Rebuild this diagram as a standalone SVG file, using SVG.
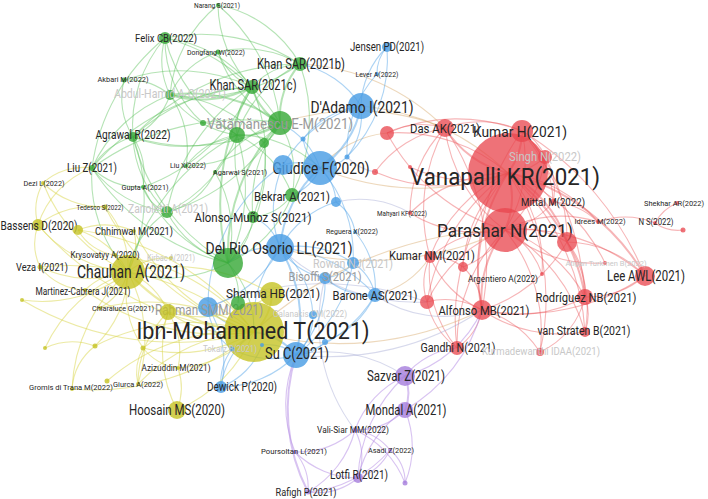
<svg xmlns="http://www.w3.org/2000/svg" width="708" height="499" viewBox="0 0 708 499">
<style>
#edges path{fill:none;stroke-width:1.1}
.r{stroke:#ec5a5f;stroke-opacity:.45}
.g{stroke:#5cc25c;stroke-opacity:.45}
.b{stroke:#5aa8ea;stroke-opacity:.5}
.y{stroke:#d9d64a;stroke-opacity:.5}
.p{stroke:#b892e6;stroke-opacity:.55}
.o{stroke:#d8a86a;stroke-opacity:.45}
.x{stroke:#9aa0d0;stroke-opacity:.4}
.w{stroke-width:2!important}
circle.R{fill:#e8464e;fill-opacity:.76}
circle.G{fill:#34a834;fill-opacity:.8}
circle.B{fill:#4a9de4;fill-opacity:.82}
circle.Y{fill:#c6c324;fill-opacity:.8}
circle.P{fill:#a57ddc;fill-opacity:.8}
text{font-family:Roboto,"Noto Sans","DejaVu Sans",sans-serif;fill:#262626;text-anchor:middle}
text.f{fill:#c8c8c8}
text.m{fill:#9a9a9a}
</style>
<rect width="708" height="499" fill="#fff"/>
<g id="edges">
<g class="r">
<path class="w" d="M508,173A80,80 0 0 1 505,230"/>
<path class="w" d="M508,173A70,70 0 0 0 522,131"/>
<path class="w" d="M508,173A100,100 0 0 1 445,128"/>
<path d="M508,173A60,60 0 0 0 545,157"/>
<path d="M508,173A70,70 0 0 1 553,202"/>
<path class="w" d="M508,173A120,120 0 0 1 567,242"/>
<path d="M508,173A140,140 0 0 1 598,222"/>
<path class="w" d="M508,173A220,220 0 0 1 645,276"/>
<path class="w" d="M508,173A190,190 0 0 1 585,297"/>
<path d="M508,173A230,230 0 0 1 585,332"/>
<path d="M508,173A230,230 0 0 1 540,352"/>
<path class="w" d="M508,173A180,180 0 0 0 482,310"/>
<path d="M508,173A230,230 0 0 0 457,348"/>
<path d="M508,173A150,150 0 0 0 430,257"/>
<path d="M508,173A140,140 0 0 1 542,274"/>
<path d="M508,173A140,140 0 0 0 463,267"/>
<path d="M508,173A180,180 0 0 1 605,263"/>
<path d="M508,173A140,140 0 0 0 410,213"/>
<path d="M508,173A200,200 0 0 0 427,302"/>
<path d="M508,173A170,170 0 0 0 387,133"/>
<path d="M508,173A170,170 0 0 1 375,172"/>
<path d="M508,173A130,130 0 0 1 410,167"/>
<path d="M505,230A130,130 0 0 0 522,131"/>
<path d="M505,230A150,150 0 0 1 445,128"/>
<path d="M505,230A110,110 0 0 0 545,157"/>
<path d="M505,230A80,80 0 0 0 553,202"/>
<path d="M505,230A90,90 0 0 1 567,242"/>
<path d="M505,230A190,190 0 0 1 645,276"/>
<path d="M505,230A140,140 0 0 1 585,297"/>
<path d="M505,230A170,170 0 0 1 585,332"/>
<path d="M505,230A160,160 0 0 1 540,352"/>
<path class="w" d="M505,230A110,110 0 0 0 482,310"/>
<path d="M505,230A160,160 0 0 0 457,348"/>
<path d="M505,230A110,110 0 0 0 430,257"/>
<path d="M505,230A80,80 0 0 1 463,267"/>
<path d="M505,230A80,80 0 0 1 542,274"/>
<path d="M505,230A140,140 0 0 0 427,302"/>
<path d="M505,230A200,200 0 0 1 387,133"/>
<path d="M505,230A130,130 0 0 1 410,213"/>
<path d="M505,230A120,120 0 0 1 598,222"/>
<path d="M505,230A140,140 0 0 0 605,263"/>
<path d="M522,131A100,100 0 0 0 445,128"/>
<path d="M522,131A50,50 0 0 1 545,157"/>
<path d="M522,131A180,180 0 0 0 387,133"/>
<path d="M522,131A100,100 0 0 1 553,202"/>
<path d="M522,131A150,150 0 0 1 567,242"/>
<path d="M522,131A230,230 0 0 0 482,310"/>
<path d="M445,128A80,80 0 0 0 387,133"/>
<path d="M445,128A170,170 0 0 0 430,257"/>
<path d="M445,128A240,240 0 0 1 482,310"/>
<path d="M445,128A110,110 0 0 0 375,172"/>
<path d="M445,128A120,120 0 0 0 410,213"/>
<path d="M598,222A80,80 0 0 1 655,223"/>
<path d="M655,223A45,45 0 0 1 677,203"/>
<path d="M655,223A40,40 0 0 0 683,230"/>
<path d="M598,222A70,70 0 0 0 553,202"/>
<path d="M567,242A110,110 0 0 1 645,276"/>
<path d="M567,242A80,80 0 0 1 585,297"/>
<path d="M482,310A100,100 0 0 1 430,257"/>
<path d="M482,310A60,60 0 0 1 457,348"/>
<path d="M482,310A70,70 0 0 0 427,302"/>
<path d="M585,297A50,50 0 0 1 585,332"/>
<path d="M645,276A90,90 0 0 1 585,297"/>
<path d="M482,310A60,60 0 0 0 463,267"/>
<path d="M430,257A50,50 0 0 1 463,267"/>
<path d="M457,348A80,80 0 0 1 427,302"/>
<path d="M427,302A60,60 0 0 1 430,257"/>
<path d="M645,276A220,220 0 0 1 482,310"/>
<path d="M585,297A140,140 0 0 1 482,310"/>
<path d="M540,352A100,100 0 0 0 482,310"/>
<path d="M585,332A140,140 0 0 1 482,310"/>
<path d="M567,242A150,150 0 0 1 482,310"/>
<path d="M545,157A60,60 0 0 1 553,202"/>
<path d="M645,276A300,300 0 0 0 522,131"/>
<path d="M585,297A300,300 0 0 0 522,131"/>
<path d="M540,352A80,80 0 0 0 585,297"/>
<path d="M457,348A120,120 0 0 1 430,257"/>
<path d="M585,332A120,120 0 0 0 567,242"/>
</g>
<g class="o">
<path d="M445,128A240,240 0 0 0 280,123"/>
<path d="M300,64A220,220 0 0 1 445,128"/>
<path d="M508,173A240,240 0 0 0 361,106"/>
<path d="M508,173A260,260 0 0 1 320,168"/>
<path d="M505,230A320,320 0 0 1 280,248"/>
<path d="M254,332A380,380 0 0 1 505,230"/>
<path d="M254,332A320,320 0 0 0 482,310"/>
<path d="M430,257A90,90 0 0 1 375,295"/>
<path d="M320,168A100,100 0 0 1 387,133"/>
</g>
<g class="x">
<path d="M280,248A200,200 0 0 0 427,302"/>
<path d="M296,355A280,280 0 0 0 482,310"/>
<path d="M208,307A300,300 0 0 1 427,302"/>
<path d="M336,202A100,100 0 0 1 410,213"/>
<path d="M375,295A120,120 0 0 0 482,310"/>
<path d="M375,172A50,50 0 0 1 347,157"/>
<path d="M355,430A175,175 0 0 1 325,278"/>
<path d="M405,376A140,140 0 0 0 296,355"/>
</g>
<g class="g">
<path class="w" d="M280,123A80,80 0 0 1 300,64"/>
<path class="w" d="M280,123A60,60 0 0 1 252,87"/>
<path d="M280,123A190,190 0 0 0 165,38"/>
<path d="M280,123A120,120 0 0 1 218,52"/>
<path class="w" d="M280,123A150,150 0 0 0 170,95"/>
<path d="M280,123A190,190 0 0 1 133,137"/>
<path class="w" d="M280,123A60,60 0 0 1 237,135"/>
<path d="M280,123A40,40 0 0 1 264,143"/>
<path d="M280,123A250,250 0 0 0 92,168"/>
<path d="M280,123A130,130 0 0 1 186,166"/>
<path d="M280,123A110,110 0 0 0 215,172"/>
<path d="M280,123A190,190 0 0 1 167,212"/>
<path d="M280,123A130,130 0 0 0 253,217"/>
<path d="M280,123A100,100 0 0 1 292,195"/>
<path class="w" d="M280,123A190,190 0 0 0 228,263"/>
<path d="M280,123A180,180 0 0 0 218,5"/>
<path d="M252,87A70,70 0 0 1 300,64"/>
<path d="M252,87A130,130 0 0 0 165,38"/>
<path d="M252,87A65,65 0 0 1 218,52"/>
<path d="M252,87A170,170 0 0 0 124,80"/>
<path class="w" d="M252,87A110,110 0 0 1 170,95"/>
<path d="M252,87A180,180 0 0 0 133,137"/>
<path d="M252,87A65,65 0 0 0 237,135"/>
<path d="M252,87A230,230 0 0 0 92,168"/>
<path d="M252,87A190,190 0 0 1 143,187"/>
<path d="M252,87A170,170 0 0 1 253,217"/>
<path class="w" d="M252,87A230,230 0 0 0 228,263"/>
<path d="M252,87A190,190 0 0 0 167,212"/>
<path d="M252,87A120,120 0 0 1 218,5"/>
<path d="M300,64A180,180 0 0 0 165,38"/>
<path d="M300,64A110,110 0 0 0 218,52"/>
<path d="M300,64A120,120 0 0 0 218,5"/>
<path d="M300,64A180,180 0 0 1 170,95"/>
<path d="M300,64A120,120 0 0 0 237,135"/>
<path d="M300,64A170,170 0 0 1 292,195"/>
<path d="M300,64A230,230 0 0 0 133,137"/>
<path d="M170,95A80,80 0 0 1 165,38"/>
<path d="M170,95A65,65 0 0 0 124,80"/>
<path d="M170,95A75,75 0 0 1 133,137"/>
<path d="M170,95A100,100 0 0 0 237,135"/>
<path d="M170,95A140,140 0 0 0 92,168"/>
<path d="M170,95A80,80 0 0 1 218,52"/>
<path d="M170,95A130,130 0 0 1 218,5"/>
<path d="M170,95A95,95 0 0 1 186,166"/>
<path d="M133,137A70,70 0 0 0 92,168"/>
<path d="M133,137A135,135 0 0 1 165,38"/>
<path d="M133,137A135,135 0 0 0 237,135"/>
<path d="M133,137A110,110 0 0 0 167,212"/>
<path d="M133,137A70,70 0 0 1 143,187"/>
<path d="M133,137A200,200 0 0 0 228,263"/>
<path d="M133,137A75,75 0 0 1 124,80"/>
<path d="M237,135A170,170 0 0 1 228,263"/>
<path d="M237,135A110,110 0 0 0 253,217"/>
<path d="M237,135A140,140 0 0 1 167,212"/>
<path d="M237,135A80,80 0 0 0 186,166"/>
<path d="M237,135A50,50 0 0 0 203,123"/>
<path d="M237,135A105,105 0 0 1 292,195"/>
<path d="M237,135A160,160 0 0 1 165,38"/>
<path d="M228,263A70,70 0 0 0 253,217"/>
<path d="M228,263A105,105 0 0 1 167,212"/>
<path d="M228,263A220,220 0 0 1 92,168"/>
<path d="M228,263A55,55 0 0 1 238,303"/>
<path d="M228,263A120,120 0 0 0 292,195"/>
<path d="M228,263A150,150 0 0 1 143,187"/>
<path d="M228,263A120,120 0 0 0 215,172"/>
<path d="M92,168A70,70 0 0 0 143,187"/>
<path d="M92,168A115,115 0 0 0 167,212"/>
<path d="M92,168A200,200 0 0 1 165,38"/>
<path d="M264,143A150,150 0 0 1 228,263"/>
<path d="M264,143A130,130 0 0 0 170,95"/>
<path d="M203,123A110,110 0 0 1 165,38"/>
<path d="M215,172A70,70 0 0 1 167,212"/>
<path d="M253,217A55,55 0 0 0 292,195"/>
<path d="M143,187A40,40 0 0 0 167,212"/>
<path d="M92,168A140,140 0 0 0 128,272"/>
<path d="M133,137A175,175 0 0 1 128,272"/>
<path d="M167,212A90,90 0 0 0 128,272"/>
<path d="M228,263A130,130 0 0 1 128,272"/>
<path d="M228,263A100,100 0 0 1 254,332"/>
<path d="M237,135A220,220 0 0 0 128,272"/>
<path d="M237,135A120,120 0 0 1 320,168"/>
</g>
<g class="b">
<path d="M228,263A70,70 0 0 1 280,248"/>
<path d="M280,123A80,80 0 0 1 320,168"/>
<path d="M300,64A95,95 0 0 1 361,106"/>
<path d="M292,195A50,50 0 0 0 320,168"/>
<path d="M253,217A50,50 0 0 1 280,248"/>
<path d="M361,106A85,85 0 0 1 387,47"/>
<path d="M387,47A40,40 0 0 0 377,74"/>
<path d="M377,74A115,115 0 0 0 347,157"/>
<path d="M387,47A140,140 0 0 1 347,157"/>
<path class="w" d="M361,106A95,95 0 0 1 320,168"/>
<path d="M361,106A125,125 0 0 0 283,165"/>
<path d="M361,106A70,70 0 0 1 347,157"/>
<path d="M361,106A85,85 0 0 0 303,139"/>
<path d="M320,168A50,50 0 0 0 283,165"/>
<path d="M320,168A50,50 0 0 1 336,202"/>
<path class="w" d="M320,168A120,120 0 0 0 280,248"/>
<path d="M320,168A45,45 0 0 1 303,139"/>
<path d="M320,168A40,40 0 0 0 347,157"/>
<path d="M280,248A95,95 0 0 1 336,202"/>
<path d="M280,248A95,95 0 0 1 353,263"/>
<path d="M280,248A70,70 0 0 0 325,278"/>
<path d="M280,248A140,140 0 0 1 375,295"/>
<path d="M280,248A120,120 0 0 1 208,307"/>
<path class="w" d="M280,248A140,140 0 0 1 296,355"/>
<path d="M280,248A115,115 0 0 0 254,332"/>
<path d="M375,295A50,50 0 0 0 353,263"/>
<path d="M375,295A70,70 0 0 1 325,278"/>
<path d="M375,295A130,130 0 0 1 296,355"/>
<path d="M325,278A105,105 0 0 1 296,355"/>
<path d="M353,263A145,145 0 0 1 296,355"/>
<path d="M313,315A55,55 0 0 1 296,355"/>
<path d="M296,355A105,105 0 0 1 221,387"/>
<path class="w" d="M296,355A65,65 0 0 0 254,332"/>
<path d="M296,355A85,85 0 0 1 232,349"/>
<path d="M296,355A40,40 0 0 0 325,342"/>
<path d="M221,387A55,55 0 0 1 232,349"/>
<path d="M221,387A70,70 0 0 0 262,345"/>
<path d="M208,307A70,70 0 0 0 254,332"/>
<path d="M208,307A105,105 0 0 1 221,387"/>
<path d="M336,202A45,45 0 0 1 355,232"/>
<path d="M355,232A85,85 0 0 1 375,295"/>
<path d="M325,342A95,95 0 0 0 375,295"/>
<path d="M320,168A130,130 0 0 1 353,263"/>
<path d="M283,165A110,110 0 0 0 280,248"/>
<path d="M280,248A95,95 0 0 1 313,315"/>
<path d="M353,263A40,40 0 0 1 325,278"/>
<path d="M283,165A170,170 0 0 0 208,307"/>
<path d="M296,355A45,45 0 0 0 262,345"/>
<path d="M208,307A55,55 0 0 0 232,349"/>
<path d="M221,387A80,80 0 0 1 254,332"/>
</g>
<g class="y">
<path class="w" d="M254,332A180,180 0 0 1 128,272"/>
<path d="M254,332A320,320 0 0 1 38,225"/>
<path d="M254,332A260,260 0 0 0 78,230"/>
<path d="M254,332A250,250 0 0 1 105,207"/>
<path d="M254,332A210,210 0 0 0 115,255"/>
<path d="M254,332A290,290 0 0 0 40,267"/>
<path d="M254,332A230,230 0 0 1 85,290"/>
<path d="M254,332A300,300 0 0 1 22,300"/>
<path d="M254,332A200,200 0 0 0 100,308"/>
<path d="M254,332A115,115 0 0 1 168,312"/>
<path class="w" d="M254,332A55,55 0 0 0 272,294"/>
<path d="M254,332A145,145 0 0 1 143,348"/>
<path d="M254,332A210,210 0 0 0 95,346"/>
<path d="M254,332A110,110 0 0 1 178,368"/>
<path d="M254,332A165,165 0 0 0 138,384"/>
<path d="M254,332A250,250 0 0 1 72,389"/>
<path d="M254,332A145,145 0 0 1 177,410"/>
<path d="M254,332A200,200 0 0 1 134,231"/>
<path d="M254,332A200,200 0 0 0 107,381"/>
<path d="M128,272A130,130 0 0 1 38,225"/>
<path d="M128,272A85,85 0 0 0 78,230"/>
<path d="M128,272A165,165 0 0 1 43,183"/>
<path d="M128,272A90,90 0 0 0 105,207"/>
<path d="M128,272A30,30 0 0 1 115,255"/>
<path d="M128,272A115,115 0 0 1 40,267"/>
<path d="M128,272A65,65 0 0 0 85,290"/>
<path d="M128,272A140,140 0 0 1 22,300"/>
<path d="M128,272A60,60 0 0 1 100,308"/>
<path d="M128,272A75,75 0 0 1 168,312"/>
<path d="M128,272A100,100 0 0 0 143,348"/>
<path d="M128,272A105,105 0 0 1 95,346"/>
<path d="M128,272A145,145 0 0 0 45,348"/>
<path d="M128,272A55,55 0 0 0 134,231"/>
<path d="M128,272A165,165 0 0 0 72,389"/>
<path d="M128,272A145,145 0 0 1 138,384"/>
<path d="M38,225A55,55 0 0 1 43,183"/>
<path d="M38,225A55,55 0 0 0 40,267"/>
<path d="M38,225A90,90 0 0 1 105,207"/>
<path d="M78,230A75,75 0 0 1 134,231"/>
<path d="M168,312A55,55 0 0 1 143,348"/>
<path d="M168,312A75,75 0 0 1 178,368"/>
<path d="M168,312A130,130 0 0 0 177,410"/>
<path d="M143,348A50,50 0 0 0 138,384"/>
<path d="M95,346A60,60 0 0 0 72,389"/>
<path d="M95,346A65,65 0 0 0 45,348"/>
<path d="M272,294A190,190 0 0 0 128,272"/>
<path d="M43,183A85,85 0 0 0 105,207"/>
<path d="M168,312A100,100 0 0 0 138,384"/>
<path d="M143,348A55,55 0 0 0 178,368"/>
<path d="M40,267A60,60 0 0 0 85,290"/>
<path d="M115,255A50,50 0 0 1 78,230"/>
<path d="M178,368A60,60 0 0 1 177,410"/>
<path d="M272,294A120,120 0 0 1 168,312"/>
<path d="M43,183A60,60 0 0 1 92,168"/>
<path d="M38,225A90,90 0 0 1 92,168"/>
<path d="M128,272A60,60 0 0 1 171,258"/>
</g>
<g class="p">
<path class="w" d="M405,376A45,45 0 0 1 405,410"/>
<path d="M405,376A95,95 0 0 0 355,430"/>
<path d="M405,376A75,75 0 0 1 457,348"/>
<path d="M405,376A145,145 0 0 0 358,478"/>
<path d="M405,410A70,70 0 0 1 355,430"/>
<path d="M405,410A95,95 0 0 1 405,483"/>
<path d="M405,410A110,110 0 0 0 358,478"/>
<path d="M355,430A85,85 0 0 1 295,452"/>
<path d="M355,430A55,55 0 0 1 390,450"/>
<path d="M355,430A60,60 0 0 1 358,478"/>
<path d="M355,430A100,100 0 0 1 308,492"/>
<path d="M355,430A95,95 0 0 1 405,483"/>
<path d="M295,452A55,55 0 0 1 308,492"/>
<path d="M295,452A90,90 0 0 0 358,478"/>
<path d="M390,450A55,55 0 0 1 358,478"/>
<path d="M390,450A120,120 0 0 1 308,492"/>
<path d="M358,478A65,65 0 0 1 308,492"/>
<path class="w" d="M296,355A180,180 0 0 0 308,492"/>
<path d="M296,355A125,125 0 0 0 295,452"/>
<path d="M405,410A165,165 0 0 0 482,310"/>
<path d="M405,376A120,120 0 0 0 482,310"/>
<path d="M405,483A40,40 0 0 0 390,450"/>
</g>
</g>
<g id="n-vanapalli"><circle class="R" cx="508" cy="173" r="40"/><text x="505" y="185" font-size="24" textLength="190" lengthAdjust="spacingAndGlyphs">Vanapalli KR(2021)</text></g>
<g id="n-ibn"><circle class="Y" cx="254" cy="332" r="30"/><text x="253" y="339" font-size="24" textLength="233" lengthAdjust="spacingAndGlyphs">Ibn-Mohammed T(2021)</text></g>
<g id="n-parashar"><circle class="R" cx="505" cy="230" r="22"/><text x="505" y="237" font-size="19" textLength="136" lengthAdjust="spacingAndGlyphs">Parashar N(2021)</text></g>
<g id="n-giudice"><circle class="B" cx="320" cy="168" r="17"/><text x="321" y="174" font-size="16" textLength="97" lengthAdjust="spacingAndGlyphs">Giudice F(2020)</text></g>
<g id="n-chauhan"><circle class="Y" cx="128" cy="272" r="17"/><text x="131" y="278" font-size="18" textLength="108" lengthAdjust="spacingAndGlyphs">Chauhan A(2021)</text></g>
<g id="n-g-dg"><circle class="G" cx="228" cy="263" r="15"/></g>
<g id="n-delrio"><circle class="B" cx="280" cy="248" r="14"/><text x="279" y="254" font-size="17" textLength="147" lengthAdjust="spacingAndGlyphs">Del Rio Osorio LL(2021)</text></g>
<g id="n-dadamo"><circle class="B" cx="361" cy="106" r="13"/><text x="362" y="113" font-size="17" textLength="103" lengthAdjust="spacingAndGlyphs">D'Adamo I(2021)</text></g>
<g id="n-suc"><circle class="B" cx="296" cy="355" r="13"/><text x="297" y="359" font-size="16" textLength="64" lengthAdjust="spacingAndGlyphs">Su C(2021)</text></g>
<g id="n-vatamanescu"><circle class="G" cx="280" cy="123" r="12"/><text class="m" x="280" y="129" font-size="15" textLength="146" lengthAdjust="spacingAndGlyphs">Vătămănescu E-M(2021)</text></g>
<g id="n-sharmahb"><circle class="Y" cx="272" cy="294" r="12"/><text x="273" y="298" font-size="13" textLength="94" lengthAdjust="spacingAndGlyphs">Sharma HB(2021)</text></g>
<g id="n-kumarh"><circle class="R" cx="522" cy="131" r="11"/><text x="520" y="137" font-size="15" textLength="94" lengthAdjust="spacingAndGlyphs">Kumar H(2021)</text></g>
<g id="n-b1"><circle class="B" cx="283" cy="165" r="10"/></g>
<g id="n-rahman"><circle class="B" cx="208" cy="307" r="10"/><text class="m" x="209" y="315" font-size="15" textLength="108" lengthAdjust="spacingAndGlyphs">Rahman SMM(2021)</text></g>
<g id="n-r7"><circle class="R" cx="567" cy="242" r="10"/></g>
<g id="n-lee"><circle class="R" cx="645" cy="276" r="10"/><text x="646" y="281" font-size="14" textLength="78" lengthAdjust="spacingAndGlyphs">Lee AWL(2021)</text></g>
<g id="n-alfonso"><circle class="R" cx="482" cy="310" r="10"/><text x="484" y="315" font-size="13" textLength="91" lengthAdjust="spacingAndGlyphs">Alfonso MB(2021)</text></g>
<g id="n-sazvar"><circle class="P" cx="405" cy="376" r="10"/><text x="406" y="381" font-size="14" textLength="78" lengthAdjust="spacingAndGlyphs">Sazvar Z(2021)</text></g>
<g id="n-dasak"><circle class="R" cx="445" cy="128" r="9"/><text x="445" y="133" font-size="13" textLength="70" lengthAdjust="spacingAndGlyphs">Das AK(2021)</text></g>
<g id="n-hoosain"><circle class="Y" cx="177" cy="410" r="9"/><text x="177" y="415" font-size="14" textLength="96" lengthAdjust="spacingAndGlyphs">Hoosain MS(2020)</text></g>
<g id="n-rodriguez"><circle class="R" cx="585" cy="297" r="8"/><text x="586" y="302" font-size="13" textLength="101" lengthAdjust="spacingAndGlyphs">Rodríguez NB(2021)</text></g>
<g id="n-g1"><circle class="G" cx="237" cy="135" r="8"/></g>
<g id="n-mondal"><circle class="P" cx="405" cy="410" r="8"/><text x="406" y="415" font-size="14" textLength="81" lengthAdjust="spacingAndGlyphs">Mondal A(2021)</text></g>
<g id="n-y1"><circle class="Y" cx="168" cy="312" r="8"/></g>
<g id="n-khanb"><circle class="G" cx="300" cy="64" r="7"/><text x="301" y="69" font-size="14" textLength="88" lengthAdjust="spacingAndGlyphs">Khan SAR(2021b)</text></g>
<g id="n-khanc"><circle class="G" cx="252" cy="87" r="7"/><text x="253" y="90" font-size="14" textLength="87" lengthAdjust="spacingAndGlyphs">Khan SAR(2021c)</text></g>
<g id="n-singh"><circle class="R" cx="545" cy="157" r="7"/><text class="f" x="545" y="161" font-size="12" textLength="72" lengthAdjust="spacingAndGlyphs">Singh N(2022)</text></g>
<g id="n-gandhi"><circle class="R" cx="457" cy="348" r="7"/><text x="458" y="352" font-size="12" textLength="75" lengthAdjust="spacingAndGlyphs">Gandhi N(2021)</text></g>
<g id="n-bekrar"><circle class="G" cx="292" cy="195" r="7"/><text x="292" y="201" font-size="13" textLength="76" lengthAdjust="spacingAndGlyphs">Bekrar A(2021)</text></g>
<g id="n-barone"><circle class="B" cx="375" cy="295" r="7"/><text x="375" y="300" font-size="13" textLength="85" lengthAdjust="spacingAndGlyphs">Barone AS(2021)</text></g>
<g id="n-gs"><circle class="G" cx="238" cy="303" r="7"/></g>
<g id="n-rc"><circle class="R" cx="427" cy="302" r="7"/></g>
<g id="n-pa"><circle class="R" cx="387" cy="133" r="7"/></g>
<g id="n-felix"><circle class="G" cx="165" cy="38" r="6"/><text x="166" y="42" font-size="11" textLength="62" lengthAdjust="spacingAndGlyphs">Felix CB(2022)</text></g>
<g id="n-zanoletti"><circle class="G" cx="167" cy="212" r="6"/><text class="f" x="168" y="213" font-size="12" textLength="80" lengthAdjust="spacingAndGlyphs">Zanoletti A(2021)</text></g>
<g id="n-alonso"><circle class="G" cx="253" cy="217" r="6"/><text x="253" y="222" font-size="13" textLength="117" lengthAdjust="spacingAndGlyphs">Alonso-Muñoz S(2021)</text></g>
<g id="n-kumarnm"><circle class="R" cx="430" cy="257" r="6"/><text x="432" y="260" font-size="12" textLength="86" lengthAdjust="spacingAndGlyphs">Kumar NM(2021)</text></g>
<g id="n-rowan"><circle class="B" cx="353" cy="263" r="6"/><text class="f" x="353" y="268" font-size="13" textLength="80" lengthAdjust="spacingAndGlyphs">Rowan NJ(2021)</text></g>
<g id="n-bisoffi"><circle class="B" cx="325" cy="278" r="6"/><text class="m" x="325" y="281" font-size="12" textLength="73" lengthAdjust="spacingAndGlyphs">Bisoffi S(2021)</text></g>
<g id="n-bassens"><circle class="Y" cx="38" cy="225" r="6"/><text x="39" y="230" font-size="13" textLength="77" lengthAdjust="spacingAndGlyphs">Bassens D(2020)</text></g>
<g id="n-dewick"><circle class="B" cx="221" cy="387" r="6"/><text x="242" y="391" font-size="12" textLength="70" lengthAdjust="spacingAndGlyphs">Dewick P(2020)</text></g>
<g id="n-bd2"><circle class="Y" cx="78" cy="230" r="5"/></g>
<g id="n-jensen"><circle class="B" cx="387" cy="47" r="5"/><text x="387" y="51" font-size="12" textLength="74" lengthAdjust="spacingAndGlyphs">Jensen PD(2021)</text></g>
<g id="n-abdul"><circle class="G" cx="170" cy="95" r="5"/><text class="f" x="170" y="98" font-size="13" textLength="112" lengthAdjust="spacingAndGlyphs">Abdul-Hamid A-Q(2021)</text></g>
<g id="n-agrawal"><circle class="G" cx="133" cy="137" r="5"/><text x="133" y="139" font-size="12" textLength="75" lengthAdjust="spacingAndGlyphs">Agrawal R(2022)</text></g>
<g id="n-g2"><circle class="G" cx="264" cy="143" r="5"/></g>
<g id="n-vanstraten"><circle class="R" cx="585" cy="332" r="5"/><text x="584" y="335" font-size="12" textLength="93" lengthAdjust="spacingAndGlyphs">van Straten B(2021)</text></g>
<g id="n-is"><circle class="R" cx="463" cy="267" r="5"/></g>
<g id="n-b2"><circle class="B" cx="336" cy="202" r="5"/></g>
<g id="n-lotfi"><circle class="P" cx="358" cy="478" r="5"/><text x="359" y="479" font-size="12" textLength="58" lengthAdjust="spacingAndGlyphs">Lotfi R(2021)</text></g>
<g id="n-kurmadewanthi"><circle class="R" cx="540" cy="352" r="4"/><text class="f" x="541" y="355" font-size="11" textLength="118" lengthAdjust="spacingAndGlyphs">Kurmadewanthi IDAA(2021)</text></g>
<g id="n-galanakis"><circle class="B" cx="313" cy="315" r="4"/><text class="f" x="310" y="317" font-size="9" textLength="74" lengthAdjust="spacingAndGlyphs">Galanakis CM(2022)</text></g>
<g id="n-mittal"><circle class="R" cx="553" cy="202" r="3"/><text x="553" y="206" font-size="10" textLength="64" lengthAdjust="spacingAndGlyphs">Mittal M(2022)</text></g>
<g id="n-rd"><circle class="R" cx="375" cy="172" r="3"/></g>
<g id="n-g3"><circle class="G" cx="203" cy="123" r="3"/></g>
<g id="n-liuz"><circle class="G" cx="92" cy="168" r="3"/><text x="92" y="172" font-size="12" textLength="50" lengthAdjust="spacingAndGlyphs">Liu Z(2021)</text></g>
<g id="n-b6"><circle class="B" cx="325" cy="342" r="3"/></g>
<g id="n-idrees"><circle class="R" cx="598" cy="222" r="2"/><text x="600" y="224" font-size="8" textLength="51" lengthAdjust="spacingAndGlyphs">Idrees M(2022)</text></g>
<g id="n-ns"><circle class="R" cx="655" cy="223" r="2"/><text x="656" y="225" font-size="9" textLength="35" lengthAdjust="spacingAndGlyphs">N S(2022)</text></g>
<g id="n-shekhar"><circle class="R" cx="677" cy="203" r="2"/><text x="674" y="206" font-size="8" textLength="60" lengthAdjust="spacingAndGlyphs">Shekhar AR(2022)</text></g>
<g id="n-sx"><circle class="R" cx="683" cy="230" r="2.5"/></g>
<g id="n-argentiero"><circle class="R" cx="542" cy="274" r="2"/><text x="503" y="282" font-size="9" textLength="70" lengthAdjust="spacingAndGlyphs">Argentiero A(2022)</text></g>
<g id="n-atigan"><circle class="R" cx="605" cy="263" r="2"/><text class="f" x="606" y="266" font-size="8" textLength="81" lengthAdjust="spacingAndGlyphs">Atigan Turkmen B(2022)</text></g>
<g id="n-mahyari"><circle class="R" cx="410" cy="213" r="2"/><text x="402" y="216" font-size="8" textLength="50" lengthAdjust="spacingAndGlyphs">Mahyari KF(2022)</text></g>
<g id="n-mo"><circle class="R" cx="410" cy="167" r="2"/></g>
<g id="n-dongfang"><circle class="G" cx="218" cy="52" r="2.5"/><text x="216" y="55" font-size="8" textLength="58" lengthAdjust="spacingAndGlyphs">Dongfang W(2022)</text></g>
<g id="n-narang"><circle class="G" cx="218" cy="5" r="2"/><text x="217" y="8" font-size="8" textLength="46" lengthAdjust="spacingAndGlyphs">Narang S(2021)</text></g>
<g id="n-akbari"><circle class="G" cx="124" cy="80" r="2.5"/><text x="123" y="82" font-size="8" textLength="51" lengthAdjust="spacingAndGlyphs">Akbari M(2022)</text></g>
<g id="n-liux"><circle class="G" cx="186" cy="166" r="2"/><text x="188" y="167.5" font-size="7" textLength="36" lengthAdjust="spacingAndGlyphs">Liu X(2022)</text></g>
<g id="n-gupta"><circle class="G" cx="143" cy="187" r="2"/><text x="145" y="190" font-size="8" textLength="47" lengthAdjust="spacingAndGlyphs">Gupta A(2021)</text></g>
<g id="n-agarwal"><circle class="G" cx="215" cy="172" r="2"/><text x="240" y="175" font-size="8" textLength="54" lengthAdjust="spacingAndGlyphs">Agarwal S(2021)</text></g>
<g id="n-lever"><circle class="B" cx="377" cy="74" r="2"/><text x="377" y="76.5" font-size="7" textLength="43" lengthAdjust="spacingAndGlyphs">Lever A(2022)</text></g>
<g id="n-b3"><circle class="B" cx="303" cy="139" r="2.5"/></g>
<g id="n-b4"><circle class="B" cx="347" cy="157" r="2.5"/></g>
<g id="n-reguera"><circle class="B" cx="355" cy="232" r="2"/><text x="352" y="234" font-size="8" textLength="52" lengthAdjust="spacingAndGlyphs">Reguera X(2022)</text></g>
<g id="n-tokarz"><circle class="B" cx="232" cy="349" r="2.5"/><text class="f" x="230" y="352" font-size="9" textLength="54" lengthAdjust="spacingAndGlyphs">Tokarz B(2021)</text></g>
<g id="n-b7"><circle class="B" cx="262" cy="345" r="2"/></g>
<g id="n-dezi"><circle class="Y" cx="43" cy="183" r="2"/><text x="44" y="186" font-size="8" textLength="41" lengthAdjust="spacingAndGlyphs">Dezi L(2022)</text></g>
<g id="n-tedesco"><circle class="Y" cx="105" cy="207" r="2.5"/><text x="100" y="210" font-size="8" textLength="47" lengthAdjust="spacingAndGlyphs">Tedesco S(2022)</text></g>
<g id="n-chhimwal"><circle class="Y" cx="134" cy="231" r="2"/><text x="134" y="235" font-size="10" textLength="78" lengthAdjust="spacingAndGlyphs">Chhimwal M(2021)</text></g>
<g id="n-krysovatyy"><circle class="Y" cx="115" cy="255" r="2"/><text x="105" y="258" font-size="9" textLength="69" lengthAdjust="spacingAndGlyphs">Krysovatyy A(2020)</text></g>
<g id="n-kirbac"><circle class="Y" cx="171" cy="258" r="2"/><text class="f" x="171" y="261" font-size="9" textLength="48" lengthAdjust="spacingAndGlyphs">Kirbac A(2021)</text></g>
<g id="n-veza"><circle class="Y" cx="40" cy="267" r="2.5"/><text x="42" y="271" font-size="10" textLength="52" lengthAdjust="spacingAndGlyphs">Veza I(2021)</text></g>
<g id="n-martinez"><circle class="Y" cx="85" cy="290" r="2"/><text x="83" y="295" font-size="10" textLength="95" lengthAdjust="spacingAndGlyphs">Martinez-Cabrera J(2021)</text></g>
<g id="n-ml"><circle class="Y" cx="22" cy="300" r="2"/></g>
<g id="n-chiaraluce"><circle class="Y" cx="100" cy="308" r="2"/><text x="123" y="311" font-size="8" textLength="62" lengthAdjust="spacingAndGlyphs">Chiaraluce G(2021)</text></g>
<g id="n-ms"><circle class="Y" cx="143" cy="348" r="2.5"/></g>
<g id="n-y2"><circle class="Y" cx="95" cy="346" r="2.5"/></g>
<g id="n-y3"><circle class="Y" cx="45" cy="348" r="2"/></g>
<g id="n-azizuddin"><circle class="Y" cx="178" cy="368" r="2"/><text x="176" y="371" font-size="9" textLength="69" lengthAdjust="spacingAndGlyphs">Azizuddin M(2021)</text></g>
<g id="n-giurca"><circle class="Y" cx="138" cy="384" r="2"/><text x="138" y="387" font-size="8" textLength="50" lengthAdjust="spacingAndGlyphs">Giurca A(2022)</text></g>
<g id="n-gromis"><circle class="Y" cx="72" cy="389" r="2"/><text x="71" y="390" font-size="8" textLength="84" lengthAdjust="spacingAndGlyphs">Gromis di Trana M(2022)</text></g>
<g id="n-gt2"><circle class="Y" cx="107" cy="381" r="2.5"/></g>
<g id="n-valisiar"><circle class="P" cx="355" cy="430" r="2.5"/><text x="353" y="433" font-size="9" textLength="72" lengthAdjust="spacingAndGlyphs">Vali-Siar MM(2022)</text></g>
<g id="n-asadi"><circle class="P" cx="390" cy="450" r="2"/><text x="391" y="453" font-size="8" textLength="46" lengthAdjust="spacingAndGlyphs">Asadi Z(2022)</text></g>
<g id="n-poursoltan"><circle class="P" cx="295" cy="452" r="2"/><text x="294" y="454" font-size="8" textLength="66" lengthAdjust="spacingAndGlyphs">Poursoltan L(2021)</text></g>
<g id="n-du"><circle class="P" cx="405" cy="483" r="2.5"/></g>
<g id="n-rafigh"><circle class="P" cx="308" cy="492" r="2.5"/><text x="306" y="496" font-size="11" textLength="61" lengthAdjust="spacingAndGlyphs">Rafigh P(2021)</text></g>
</svg>
